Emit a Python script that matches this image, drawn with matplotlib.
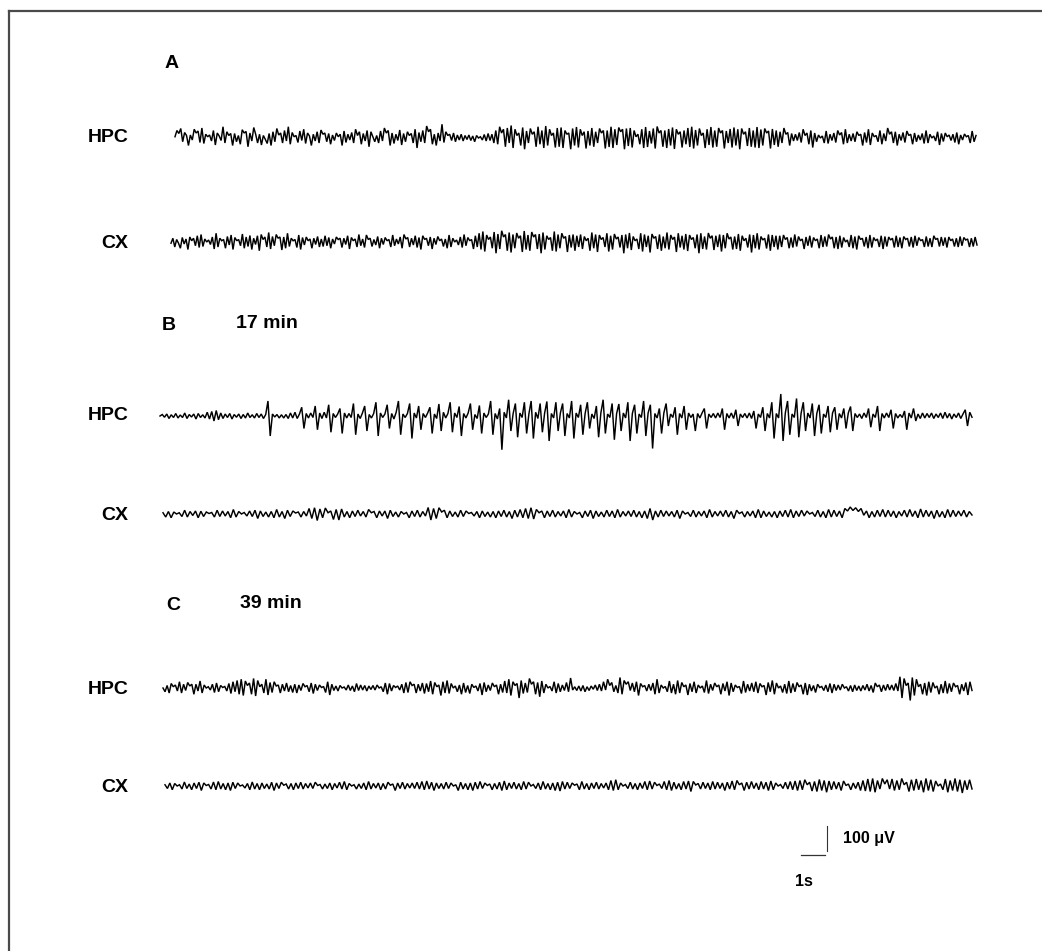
import numpy as np
import matplotlib
matplotlib.use("Agg")
import matplotlib.pyplot as plt
from matplotlib.lines import Line2D

# EEG traces, hippocampus (HPC) and cortex (CX): successive peaks/troughs in uV
hpc_a = [5, 30, 18, 38, -15, 22, 10, -30, 12, -8, 35, 20, 28, -18, 40, -22, 15, 5, 12, -12,
         30, -28, 20, 8, -10, 45, -20, 25, 10, 18, -30, 18, -15, 10, -25, 33, 20, 26, -35, 20,
         -12, 42, 15,
         -20, 15, -28, 10, -5, -22, 18, -30, 25, -15, 38, 12, 20, -20, 30, -12, 45, -25, 22, 5,
         10, -18, 28, -10, 35, -22, 20, 8, -30, 15, -12, 25, -20, 32, 15, 20, -15, 18,
         -25, 12, -10, 20, 5, 15, -30, 28, -18, 15, -8, 22, -20, 35, 10, 25, -25, 18, -12, 30,
         -35, 25, 5, -15, 10, -20, 28, -12, 40, 20, 30, -30, 20, -22, 15, -10, 32, -28, 18, -15,
         25, 10, 18, -20, 35, -40, 22,
         -15, 30, -20, 48, 25, 35, -25, 15, -30, 20, -12, 55, -18, 25, 10, 15, -10, 20, -15, 12,
         -8, 15, -12, 10, -6,
         12, -10, 8, -15, 10, 0, 5, -8, 14, -12, 18, -10, 15, -20,
         30, -25, 45, 20, 35, -35, 40, -20, 50, -40, 35, 10, 20, -30, 42, -45, 28, -20, 38, 15,
         25, -35, 45, -25, 30, -40, 48, -30, 35, 10, 20, -38, 40,
         -35, 42, -40, 30, 15, 20, -45, 38, -30, 44, -38, 35, 10, 25, -42, 28, -30, 40, -35, 25,
         -20, 38, 20, 30, -42, 30, -36, 45, -40, 35, -28, 42, 25, 35, -45, 38, -32, 40, -38, 30,
         5, 15, -25, 35, -40, 44, -36, 28, -22, 38, -42, 46, 20, 30, -35, 30, -40, 36, -30, 42,
         -44, 35, 15, 25, -38, 30, -25, 40, -36, 45, -42, 32, -30, 38, 10, 20, -40, 35, -28, 44,
         -38, 30, -35, 40, 20, 30, -42, 28, -20, 36, -38, 42, -30, 35, -45, 38, 15, 25, -32, 40,
         -35, 30, -38, 44, -40, 34, -30, 38, 20, 28, -42, 36, -28, 30,
         -35, 25, -20, 40, 15, 22, -30, 18, -12, 15, -10, 22, -18, 35, 10, 20, -25, 30, -38, 20,
         -15, 12, 0, 8, -20, 28, -22, 15, -10, 20, -18, 30, 12, 22, -25, 35, -20, 15,
         -12, 18, -15, 25, 10, 15, -30, 22, -18, 35, -28, 20, 5, 10, -15, 30, -25, 18, -12, 40,
         15, 25, -20, 25, -30, 15, -10, 22, -18, 28, 10, 15, -25, 20, -15, 12, -8, 18, -22, 30,
         -20, 15, 0, 8, -12, 25, -28, 18, -14, 20, 5, 12, -10, 15, -18, 22, -25, 12, -8, 16,
         5, 10, -20, 28, -15, 10]

cx_a = [-5, 15, -20, 10, -5, -25, 18, -8, 12, -30, 20, 5, 15, -15, 25, -22, 30, -18, 12, 0,
        8, -10, 20, -28, 35, -20, 15, 5, 10, -25, 22, -12, 28, -30, 18, 5, 10, -15, 32, -25,
        20, -18, 26, -30, 15,
        -10, 25, -35, 30, 10, 20, -20, 38, -28, 22, -15, 30, 15, 20, -32, 20, -25, 35, -18, 15,
        5, 10, -22, 28, -30, 18, -12, 20, 5, 12, -25, 15, -10, 22, -20, 12, -18, 25,
        -15, 18, -25, 12, -8, 20, 10, 15, -22, 15, -10, 25, -28, 18, 5, 12, -20, 30, -15, 12,
        -22, 28, 10, 15, -18, 10, -12, 22, -25, 15, -10, 18, 5, 10, -20, 28, -15, 12, -8, 20,
        -25, 30, 12, 18, -20, 15, -12, 25,
        -22, 18, -30, 25, 10, 15, -15, 20, -28, 15, -10, 22, 5, 12, -18, 12, -25, 28, -20, 15,
        0, 8, -12, 20, -22, 30, -15, 18, 5, 10, -28, 25, -20,
        35, -30, 42, -38, 28, 10, 20, -25, 40, -45, 32, -28, 45, 20, 30, -35, 38, -42, 30, -25,
        36, 15, 25, -40, 44, -30, 28, -35, 40, 20, 30, -28, 32, -45, 38, -30, 25, 10, 18, -35,
        42, -38, 30, -25, 35, 15, 22, -40, 28, -22, 30, -35, 25, -20,
        30, -28, 22, 5, 15, -35, 38, -25, 30, -40, 28, 10, 18, -20, 35, -38, 25, -30, 32, 12,
        20, -22, 28, -45, 30, -25, 36, -32, 22, 5, 12, -28, 35, -38, 30, -20, 25, -42, 32, 15,
        22, -28, 30, -35, 22, -25, 38, -30, 28, 10, 20, -40, 35, -22, 25, -30, 32, -36, 28, 10,
        18, -25, 30, -45, 35, -28, 22, -30, 36, 15, 25, -32, 25, -20, 30, -38, 28, -25, 35, 12,
        20, -30, 22, -28, 32, -35, 25, 5, 15, -22, 30, -42, 28, -25, 35, -30, 22, 8, 15, -26,
        30, -35, 28, -20, 25, -30,
        25, -20, 28, 10, 18, -25, 18, -22, 30, -18, 22, 5, 12, -28, 20, -15, 25, -22, 18, 5,
        12, -25, 28, -20, 22, -18, 30, 12, 20, -25, 20, -28, 25, -22, 18, 0, 8, -20, 28, -25,
        22, -30, 25, 10, 15, -18, 20, -25, 28, -22, 18, 5, 12, -20, 25, -28, 22, -18, 20, 8,
        15, -22, 25, -20, 18, -25, 22, 10, 15, -18, 20, -22, 25, -15, 18, 5, 10, -20, 22, -18,
        15, -20, 25, 10, 15, -18, 20, -15, 18, -22, 20, 5, 12, -18, 15, -20, 22, -15, 18, 8,
        12, -20, 15, -18, 20, -12]

hpc_b = [0, 6, -5, 8, -10, 5, -6, 10, -8, 4, -6, 12, -10, 6, -4, 8, -12, 10, -6, 5,
         -8, 15, -12, 18, -20, 22, -15, 12, -10, 8, -6, 10, -12, 6, -5, 8, -10, 6, -8, 12,
         -6, 5, -8, 10, -6, 8, -10, 6,
         60, -80, 8, -4, 6, -8, 5,
         -8, 6, -10, 12, -8, 15, -10, 8, 35, -50, 10, -8, 12, -6, 40, -55, 12, -10, 15, -8,
         45, -65, 10, -6, 8, 30, -70, 12, -8,
         10, -6, 50, -75, 8, -10, 12, 40, -60, 6, -8, 10, 55, -80, 12, -6, 8, 45, -50, 10,
         -12, 15, 60, -75, 8, -6, 10, 50, -90, 12, -8, 40, -55, 10, -6, 12, 35, -70, 8, -10,
         48, -60, 15, -8, 10, 55, -65, 12, -6, 38, -80, 10, -8, 12, 50, -55, 6, -10, 42, -70,
         12, -6, 8, 60, -75, 10, -12,
         30, -135, 15, -8, 65, -60, 10, 50, -85, 12, -6, 55, -70, 8, 60, -90, 15, -10, 50, -65,
         12, 58, -100, 10, -8, 55, -60, 12, 50, -80, 10,
         -8, 60, -90, 12, -6, 45, -75, 10, 55, -50, 8, -10, 40, -85, 12, 65, -70, 8, -6, 50,
         -95, 10, 48, -60, 12, -8, 55, -100, 10, 45, -70, 8, -6, 60, -80, 12, 45, -130, 10, -8,
         30, -70, 12, 50, -40, 8, -6, 35, -75, 10, -8, 40, -55, 12, -6, 8, -60, 10, -8, 12,
         30, -50, 8, -6, 10, -8, 12, -6, 30, -55, 10, -8, 12, -10, 25, -40, 8, -6, 10, -8,
         12, -10, 20, -50, 8, -6, 35, -60, 10, -8,
         55, -90, 10, -8, 88, -100, 12, 60, -75, 8, -6, 70, -85, 10, 55, -60, 12, -8, 50, -80,
         10, 45, -70, 8, -6, 40, -65, 12, 35, -55, 10, -8, 30, -50, 12, 38, -60, 10, -6,
         8, -10, 12, -6, 30, -45, 8, -6, 40, -60, 10, -8, 12, -6, 25, -50, 10, -8, 6, -6,
         20, -55, 12, -8, 30, -20, 8, -10, 12, -8, 10, -6, 12, -10, 8, -6, 12, -10, 15, -8,
         10, -12, 8, -6, 12, -10, 8, 25, -40, 15, -5]

cx_b = [5, -12, 10, -15, 8, 0, 5, -10, 15, -12, 10, -6, 12, -15, 11, -10, 8, 2, 6, -12,
        15, -10, 12, -8, 10, -15, 18, -12, 10, 0, 6, -8, 12, -10, 15, -18, 12, -10, 8, -12,
        10, -15, 18, -12, 10, -18, 15, -10, 12, 4, 8, -12, 10, -8,
        22, -18, 25, -26, 20, -15, 24, 5, 12, -22, 18, -24, 20, -12, 10, -15,
        12, -10, 15, -8, 10, -12, 18, 5, 10, -15, 12, -8, 12, -18, 15, -10, 8, -12, 10, 0,
        6, -15, 12, -10, 15, -12, 10, -8, 26, -24, 22, -18, 25, 8, 15, -15, 12, -10, 8, -12,
        15, -10, 12, 2, 6, -8, 10, -15, 12, -10, 8, -12,
        10, -15, 12, -10, 15, -12, 10, -18, 15, -12, 18, -15, 22, -18, 25, -20, 18, 5, 12, -15,
        12, -10, 15, -12, 10, -8, 12, -15, 18, -12, 10, 0, 6, -15, 12, -10, 15, -18, 12, -10,
        8, -12, 15, -10, 12, -15, 18, -12, 10, -8, 12, -10, 15, -12, 10, -15, 12, -18, 22, -24,
        12,
        -12, 15, -10, 12, -8, 10, -12, 15, -18, 12, 0, 6, -10, 15, -12, 10, -8, 12, -15, 18,
        -12, 10, -8, 12, -10, 15, -12, 10, -18, 15, 2, 8, -12, 10, -8, 12, -15, 18, -15, 12,
        -10, 8, -12, 10, -15, 12, -10, 15, -12, 18, -15, 12, -10, 15, -8, 12, 0, 6, -10, 15,
        -12, 10, -15, 18, -12, 15, -10, 12, -15,
        22, 12, 28, 14, 25, 10, 22, -5, 12, -15, 10, -12, 15, -10, 18, -12, 15, -10, 12, -15,
        10, -8, 15, -12, 18, -10, 12, -15, 20, -12, 15, -10, 12, -18, 15, -12, 10, -15, 18, -12,
        15, -10, 12, -8, 15, -12, 10, -4]

hpc_c = [0, -15, 10, -20, 18, 5, 12, -12, 25, -20, 15, -10, 22, 8, 15, -25, 15, -12, 28, -20,
         12, 0, 5, -8, 15, -18, 20, -15, 10, 2, 6, -12, 18, -22, 25, -15, 30, -25,
         35, -30, 28, 10, 20, -25, 38, -32, 30, 5, 15, -20, 35, -28, 22, -18, 25, 8, 12, -20,
         15, -12, 20, -15, 10, -18,
         15, -20, 12, -10, 18, 5, 10, -15, 20, -22, 15, -10, 12, 2, 6, -18, 25, -28, 15, -10,
         8, -12, 10, 0, 4, -8, 12, -10, 8, -15, 18, -10, 12, -8,
         10, -12, 8, -6, 10, -8, 12, 0, 5, -15, 20, -25, 18, -12, 10, 2, 8, -8, 15, -20,
         22, -18, 25, 10, 15, -20, 15, -12, 20, -22,
         18, -15, 28, -25, 22, 5, 12, -30, 25, -20, 30, -22, 18, 0, 8, -15, 12, -25, 20, -18,
         10, -22, 15, 2, 8, -12, 18, -28, 22, -15, 12, -10, 20, 5, 12, -25, 15, -18, 28, -20,
         35, -30, 25, 10, 18, -40, 30, -22, 20, -18, 38, 15, 25, -25, 22, -35, 28, -20, 15, 0,
         6, -12, 25, -20, 18, -15, 12, -10, 22, -15,
         40, -8, 5, -10, 8, -12, 10, -15, 5, -10, 8, -5, 12, -10, 15, -12, 25, -8,
         35, 10, 22, -15, 10, -20, 42, -25, 30, 15, 25, -10, 20, -15, 25, -30, 18, 5, 10, -12,
         15, -10, 20, -25, 35, -20, 12, 0, 6, -15, 28, -20,
         15, -25, 30, -20, 22, 5, 12, -28, 18, -15, 25, -20, 12, 0, 8, -18, 30, -22, 15, -10,
         20, 5, 12, -25, 18, -12, 25, -30, 20, -15, 12, 2, 6, -22, 28, -18, 15, -12, 20, -15,
         25, -20, 18, 5, 10, -28, 22, -15, 30, -25, 20, 0, 8, -18, 15, -22, 28, -20, 18, -15,
         22, 5, 12, -25, 20, -28, 15, -12, 10, -18, 15, 2, 6, -10, 12, -15, 18, -20, 15, -10,
         12, -8, 15, 0, 5, -12, 10, -15, 12, -10,
         8, -12, 10, -8, 15, -12, 10, -18, 20, 5, 12, -15, 12, -10, 15, -8, 12, -10, 18, -12,
         45, -40, 38, 10, 20, -50, 42, -30, 35, 5, 15, -25, 20, -30, 25, -18, 22, 0, 8, -25,
         15, -20, 28, -22, 18, -15, 20, 5, 10, -25, 15, -12, 22, -28, 25, -10]

cx_c = [5, -10, 12, -15, 10, 0, 5, -12, 16, -10, 8, -15, 12, -10, 15, -18, 12, 2, 6, -12,
        16, -15, 18, -12, 10, -15, 12, -18, 15, -10, 12, 0, 4, -8, 10, -15, 16, -12, 10, -15,
        12, -10, 8, -12, 15, -18, 12, -10, 15, 3, 8, -12, 10, -15, 12, -10,
        15, -12, 10, -8, 12, -10, 15, 2, 6, -12, 8, -10, 12, -15, 10, -8, 15, -12, 18, -15,
        10, 0, 5, -12, 8, -10, 12, -15, 18, -12, 10, -8, 12, -15, 10, -12, 15, 3, 8, -18,
        12, -10, 15, -12, 10, -8, 12, -10, 15, -12, 18, -15, 20, -12, 15, -18, 12, -10,
        10, -12, 15, -10, 12, 0, 5, -18, 15, -12, 10, -15, 12, -18, 15, -12, 18, -10, 12, 2,
        8, -15, 10, -12, 15, -18, 20, -15, 12, -10, 15, -12, 10, -15, 18, -12, 15, 0, 6, -10,
        12, -15, 18, -12, 10, -15, 12, -18, 15, -20, 18, -12, 15, -10, 12, 3, 8, -15, 18, -12,
        10, -15, 12, -10, 15, -12,
        10, -8, 12, -15, 22, -18, 25, -15, 12, 0, 6, -10, 15, -12, 10, -15, 12, -10, 18, -15,
        20, -12, 15, 2, 8, -10, 18, -15, 22, -18, 15, -12, 10, -15, 18, -12, 20, -22, 18, 4,
        10, -12, 15, -10, 12, -15, 18, -12, 15, -10, 12, -18, 15, -12, 20, -15, 22, 5, 12, -18,
        15, -12, 18, -10, 12, -15,
        18, -12, 15, -18, 20, -15, 12, 0, 6, -10, 15, -12, 18, -15, 20, -18, 22, -15, 25, 5,
        15, -20, 18, -22, 26, -18, 22, -25, 20, -15, 18, -12, 15, -18, 20, 2, 8, -15, 12, -10,
        15, -18, 22, -20, 28, -22, 30, -25, 22, -12,
        30, 8, 25, -12, 28, -18, 22, -15, 30, 5, 15, -22, 25, -18, 28, -15, 22, -25, 30, -18,
        25, -22, 20, 0, 8, -15, 28, -25, 22, -18, 30, -22, 25, -28, 22, -15, 25, -12]

channel_names = ["HPC", "CX"]
panel_names = ["A", "B", "C"]
panel_times = ["", "17 min", "39 min"]
scale_uv = 100   # vertical calibration bar
scale_s = 1      # horizontal calibration bar

W, H = 1042, 951
PX_S = 24.0      # pixels per second
PX_UV = 0.25     # pixels per microvolt

fig = plt.figure(figsize=(W / 100, H / 100), dpi=100)
ax = fig.add_axes([0, 0, 1, 1])
ax.set_xlim(0, W / PX_S)
ax.set_ylim(-H / PX_UV, 0)
ax.axis("off")


def sx(px):
    return px / PX_S


def sy(py):
    return -py / PX_UV


FONT = "Liberation Sans"

# (values, x start px, x end px, baseline px)
traces = [
    (hpc_a, 175, 976, 138),
    (cx_a, 171, 977, 242),
    (hpc_b, 160, 972, 416),
    (cx_b, 163, 972, 514),
    (hpc_c, 163, 972, 688),
    (cx_c, 165, 972, 786),
]

for vals, x0, x1, base in traces:
    v = np.array(vals, dtype=float)
    t = np.linspace(sx(x0), sx(x1), len(v))
    ax.plot(t, sy(base) + v, color="black", lw=1.05, solid_joinstyle="miter")

# channel labels
label_rows = [(138, 0), (244, 1), (415, 0), (516, 1), (689, 0), (788, 1)]
for y, ch in label_rows:
    x = 88 if ch == 0 else 101
    ax.text(sx(x), sy(y), channel_names[ch], fontsize=14, fontweight="bold",
            family=FONT, ha="left", va="center")

# panel letters and times
panel_rows = [(165, 63), (162, 326), (166, 606)]
time_x = [None, 236, 240]
for i, (x, y) in enumerate(panel_rows):
    ax.text(sx(x), sy(y), panel_names[i], fontsize=14, fontweight="bold",
            family=FONT, ha="left", va="center")
    if panel_times[i]:
        ax.text(sx(time_x[i]), sy(y - 3), panel_times[i], fontsize=14,
                fontweight="bold", family=FONT, ha="left", va="center")

# calibration bars
bar_x, bar_top = 827, 826
ax.plot([sx(bar_x), sx(bar_x)], [sy(bar_top), sy(bar_top) - scale_uv],
        color="#333333", lw=0.8)
hx0, hy = 801, 855
ax.plot([sx(hx0), sx(hx0) + scale_s], [sy(hy), sy(hy)], color="#333333", lw=0.9)
ax.text(sx(843), sy(838), "100 \u03bcV", fontsize=11.5, fontweight="bold",
        family=FONT, ha="left", va="center")
ax.text(sx(795), sy(881), "%ds" % scale_s, fontsize=11.5, fontweight="bold",
        family=FONT, ha="left", va="center")

# frame: left and top edges
fig.add_artist(Line2D([8.5 / W, 8.5 / W], [0, 1 - 11 / H], transform=fig.transFigure,
                      color="#4a4a4a", lw=1.6))
fig.add_artist(Line2D([8.5 / W, 1], [1 - 11 / H, 1 - 11 / H], transform=fig.transFigure,
                      color="#4a4a4a", lw=1.6))

fig.savefig("out.png", dpi=100, facecolor="white")
